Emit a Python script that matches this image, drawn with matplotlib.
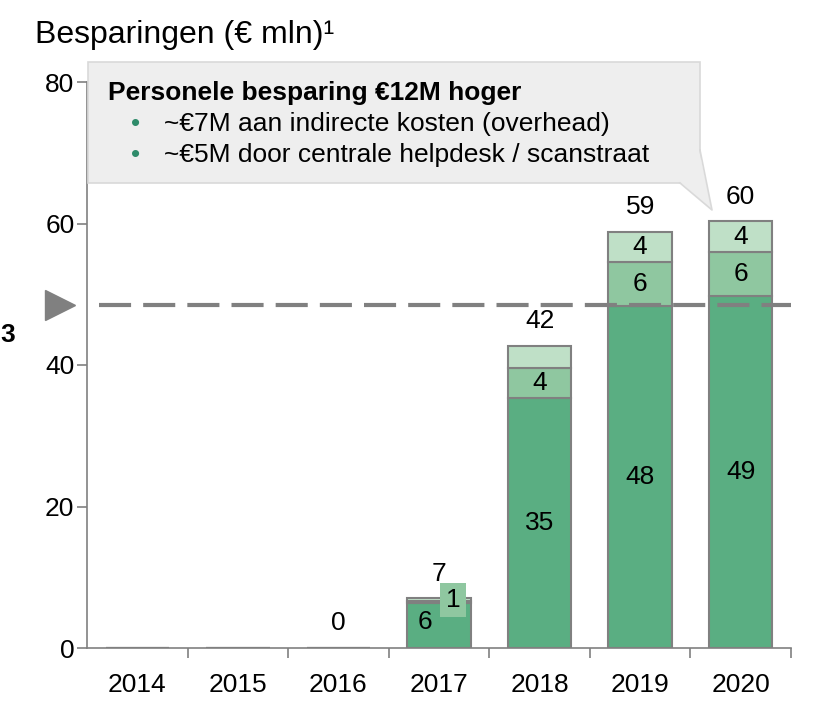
import numpy as np
import matplotlib.pyplot as plt
from matplotlib.patches import Polygon, Rectangle

plt.rcParams['font.family'] = ['Liberation Sans', 'DejaVu Sans']

years = ['2014', '2015', '2016', '2017', '2018', '2019', '2020']
base = [0, 0, 0, 6.3, 35.4, 48.4, 49.8]
mid = [0, 0, 0, 0.35, 4.2, 6.2, 6.2]
top = [0, 0, 0, 0.35, 3.1, 4.2, 4.3]
base_lbl = ['', '', '', '6', '35', '48', '49']
mid_lbl = ['', '', '', '1', '4', '6', '6']
top_lbl = ['', '', '', '', '', '4', '4']
totals = ['', '', '0', '7', '42', '59', '60']
target = 48.5

c_dark = '#5aae82'
c_mid = '#8fc7a0'
c_light = '#bfe0c7'
edge = '#808080'

fig = plt.figure(figsize=(8.23, 7.28), dpi=100)
ax = fig.add_axes([87/823, 80/728, 704/823, 566/728])

x = np.arange(len(years))
w = 0.63
b0 = np.array(base)
b1 = b0 + np.array(mid)
b2 = b1 + np.array(top)
ax.bar(x, base, w, color=c_dark, edgecolor=edge, linewidth=1.5, zorder=2)
ax.bar(x, mid, w, bottom=b0, color=c_mid, edgecolor=edge, linewidth=1.5, zorder=2)
ax.bar(x, top, w, bottom=b1, color=c_light, edgecolor=edge, linewidth=1.5, zorder=2)

fs = 19
for i in range(len(years)):
    if base_lbl[i]:
        if i == 3:
            ax.text(x[i] - 0.14, 3.7, base_lbl[i], ha='center', va='center', fontsize=fs, zorder=5)
        else:
            ax.text(x[i], b0[i] / 2, base_lbl[i], ha='center', va='center', fontsize=fs, zorder=5)
    if mid_lbl[i]:
        if i == 3:
            ax.text(x[i] + 0.14, 6.8, mid_lbl[i], ha='center', va='center', fontsize=fs,
                    zorder=5, bbox=dict(boxstyle='square,pad=0.2', fc=c_mid, ec='none'))
        else:
            ax.text(x[i], (b0[i] + b1[i]) / 2, mid_lbl[i], ha='center', va='center', fontsize=fs, zorder=5)
    if top_lbl[i]:
        ax.text(x[i], (b1[i] + b2[i]) / 2, top_lbl[i], ha='center', va='center', fontsize=fs, zorder=5)
    if totals[i]:
        ax.text(x[i], b2[i] + 3.5, totals[i], ha='center', va='center', fontsize=fs, zorder=5)

# target line with marker
ax.axhline(target, xmin=0.017, xmax=1.0, color=edge, lw=3, dashes=(7.7, 2.9), zorder=4, clip_on=False)
ax.plot([-0.77], [target], marker='>', markersize=21, color=edge, clip_on=False, zorder=4)
fig.text(0.0, 1 - 335/728, '3', fontsize=fs, fontweight='bold', va='center', ha='left')

ax.set_xlim(-0.5, 6.5)
ax.set_ylim(0, 80)
ax.set_yticks([0, 20, 40, 60, 80])
ax.set_xticks(x)
ax.set_xticklabels(years)
ax.set_xticks(np.arange(0.5, 7, 1), minor=True)
ax.tick_params(axis='x', which='major', length=0, pad=18, labelsize=fs)
ax.tick_params(axis='x', which='minor', length=7, color=edge, width=1.2)
ax.tick_params(axis='y', length=7, color=edge, width=1.2, labelsize=fs, pad=2)
for s in ['top', 'right']:
    ax.spines[s].set_visible(False)
for s in ['left', 'bottom']:
    ax.spines[s].set_color(edge)
    ax.spines[s].set_linewidth(1.2)

fig.text(35/823, 1 - 35/728, 'Besparingen (€ mln)¹', fontsize=23, va='center', ha='left')


# callout box, in pixel coordinates of the figure
def fx(px):
    return px / 823


def fy(py):
    return 1 - py / 728


box = Rectangle((fx(88), fy(183)), fx(700) - fx(88), fy(62) - fy(183),
                transform=fig.transFigure, fc='#eeeeee', ec='#d9d9d9', lw=1.2, zorder=10)
fig.add_artist(box)
tail = Polygon([(fx(680), fy(182)), (fx(712), fy(210)), (fx(699), fy(150))],
               closed=True, transform=fig.transFigure, fc='#eeeeee', ec='none', zorder=11)
fig.add_artist(tail)
fig.add_artist(plt.Line2D([fx(680), fx(712), fx(700)], [fy(183), fy(210), fy(150)],
                          transform=fig.transFigure, color='#d9d9d9', lw=1.2, zorder=12))
fig.text(fx(108), fy(93), 'Personele besparing €12M hoger', fontsize=fs, fontweight='bold',
         va='center', ha='left', zorder=13)
for yy, t in [(124, '~€7M aan indirecte kosten (overhead)'),
              (155, '~€5M door centrale helpdesk / scanstraat')]:
    fig.text(fx(131), fy(yy), '•', color='#2e8b6a', fontsize=fs, va='center', ha='left', zorder=13)
    fig.text(fx(164), fy(yy), t, fontsize=fs, va='center', ha='left', zorder=13)

fig.savefig('out.png', dpi=100)
